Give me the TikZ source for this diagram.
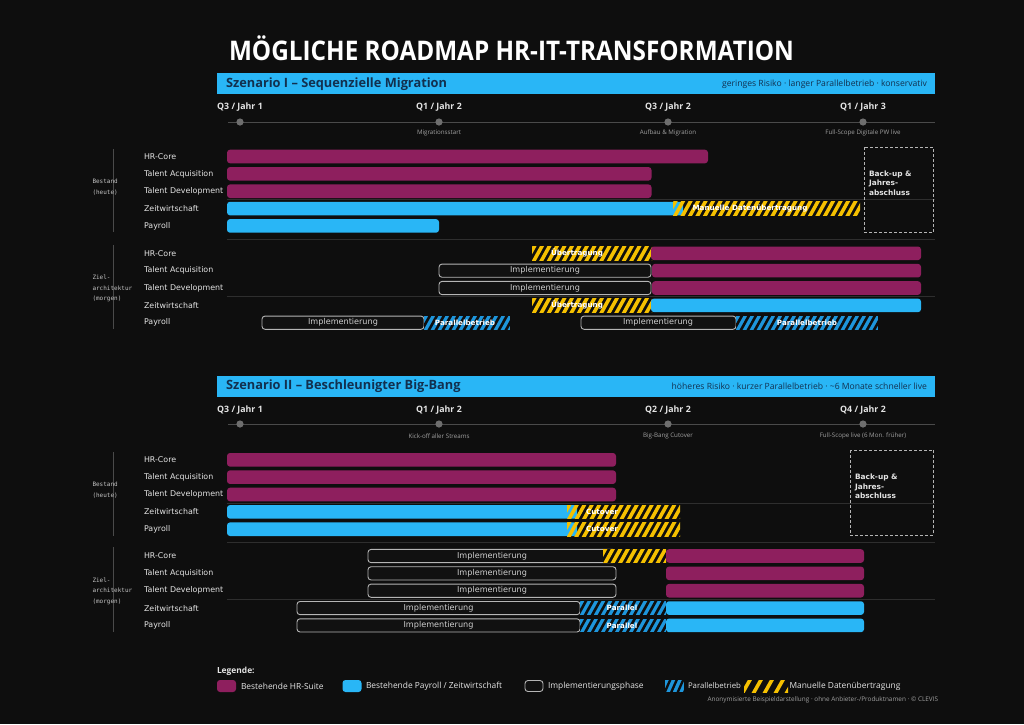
\documentclass[tikz,border=0pt]{standalone}
\usepackage{fontspec}
\setmainfont{Open Sans}
\newfontfamily\dvs{DejaVu Sans}
\newfontfamily\dvm{DejaVu Sans Mono}
\definecolor{bgc}{HTML}{0E0E0E}
\definecolor{magc}{HTML}{8E1F5E}
\definecolor{bluec}{HTML}{29B6F6}
\definecolor{hblue}{HTML}{1E96DC}
\definecolor{yelc}{HTML}{F5C000}
\definecolor{hdrc}{HTML}{12304F}
\definecolor{lblc}{HTML}{E4E4E4}
\definecolor{subc}{HTML}{A0A0A0}
\definecolor{grpc}{HTML}{C4C4C4}
\definecolor{outc}{HTML}{B5B5B5}
\definecolor{implc}{HTML}{D0D0D0}
\definecolor{sepc}{HTML}{2E2E2E}
\definecolor{tlc}{HTML}{4A4A4A}
\definecolor{dotc}{HTML}{6E6E6E}
\definecolor{boxc}{HTML}{111111}

\newcommand\mbar[3]{\fill[magc, rounded corners=3pt] (#1,#3-6.8) rectangle (#2,#3+6.8);}
\newcommand\bbar[3]{\fill[bluec, rounded corners=3pt] (#1,#3-6.8) rectangle (#2,#3+6.8);}
\newcommand\obar[5]{\draw[outc, line width=0.9pt, fill=boxc, rounded corners=3pt] (#1,#3-6.6) rectangle (#2,#3+6.6);
  \node[impltext] (#4) at (#5,#3) {Implementierung};}
\newcommand\yhatch[4]{\begin{scope}
  \clip (#1,#3-6.8) rectangle (#2,#3+6.8);
  \ifx#4d\fill[bgc] (#1,#3-6.8) rectangle (#2,#3+6.8);\fi
  \foreach \i in {0,...,30} \draw[yelc, line width=3.6pt] ({#1-14+\i*7.5},#3+9) -- ++(10,-18);
  \end{scope}}
\newcommand\bhatch[3]{\begin{scope}
  \clip (#1,#3-6.8) rectangle (#2,#3+6.8);
  \fill[hblue] (#1,#3-6.8) rectangle (#2,#3+6.8);
  \foreach \i in {0,...,30} \draw[bgc, line width=2.6pt] ({#1-10+\i*7},#3+9) -- ++(10,-18);
  \end{scope}}

\begin{document}
\begin{tikzpicture}[x=1pt,y=-1pt,
  every node/.style={inner sep=0pt, outer sep=0pt},
  titlestyle/.style={text=white, font=\bfseries\fontsize{27}{30}\selectfont},
  rowlabel/.style={anchor=west, text=lblc, font=\dvs\fontsize{7.9}{9}\selectfont},
  grouplabel/.style={anchor=west, align=left, text=grpc, font=\dvm\fontsize{6}{10.5}\selectfont},
  qlabel/.style={text=lblc, font=\bfseries\fontsize{8.8}{10}\selectfont},
  sublabel/.style={text=subc, font=\fontsize{6.2}{7}\selectfont},
  hdrtitle/.style={anchor=west, text=hdrc, font=\bfseries\fontsize{12.8}{14}\selectfont},
  hdrnote/.style={anchor=east, text=hdrc, font=\fontsize{8.6}{9}\selectfont},
  impltext/.style={text=implc, font=\dvs\fontsize{8.1}{9}\selectfont},
  hatchtext/.style={text=white, font=\dvs\bfseries\fontsize{7.2}{8}\selectfont},
  backup/.style={anchor=west, align=left, text=lblc, font=\dvs\bfseries\fontsize{7.4}{9.5}\selectfont},
  backbox/.style={draw=outc, line width=1pt, dash pattern=on 3pt off 2pt},
  sepline/.style={draw=sepc, line width=0.8pt},
  grpline/.style={draw=tlc, line width=1.2pt},
  tline/.style={draw=tlc, line width=1pt},
  tdot/.style={fill=dotc},
  legtext/.style={anchor=west, text=lblc, font=\fontsize{8.4}{9}\selectfont},
  foottext/.style={anchor=east, text=subc, font=\fontsize{6.4}{7}\selectfont}
]
\useasboundingbox (0,0) rectangle (1024,724);
\fill[bgc] (0,0) rectangle (1024,724);

% Title
\node[titlestyle] (title) at (511.5,48) {\scalebox{0.9}[1]{MÖGLICHE ROADMAP HR-IT-TRANSFORMATION}};

% ================= Scenario I =================
\fill[bluec] (217,73) rectangle (935,94);
\node[hdrtitle] (h1) at (226,84) {Szenario I – Sequenzielle Migration};
\node[hdrnote] (n1) at (927,84) {geringes Risiko · langer Parallelbetrieb · konservativ};

\draw[tline] (228,122) -- (935,122);
\foreach \xx/\q/\s/\nm in {240/{Q3 / Jahr 1}/{}/a, 439/{Q1 / Jahr 2}/{Migrationsstart}/b, 668/{Q3 / Jahr 2}/{Aufbau \& Migration}/c, 863/{Q1 / Jahr 3}/{Full-Scope Digitale PW live}/d}{
  \fill[tdot] (\xx,122) circle (3.6pt);
  \node[qlabel] (q1\nm) at (\xx,107) {\q};
  \node[sublabel] (s1\nm) at (\xx,133) {\s};
}

% separators
\draw[sepline] (227,199.8) -- (935,199.8);
\draw[sepline] (227,239.5) -- (935,239.5);
\draw[sepline] (227,296.8) -- (935,296.8);

% group labels
\draw[grpline] (113.5,149) -- (113.5,232.3);
\draw[grpline] (113.5,245) -- (113.5,329.3);
\node[grouplabel] (g1a) at (92.5,187) {Bestand\\(heute)};
\node[grouplabel] (g1b) at (92.5,288.5) {Ziel-\\architektur\\(morgen)};

% row labels
\node[rowlabel] (r1a) at (144,156.5) {HR-Core};
\node[rowlabel] (r1b) at (144,173.85) {Talent Acquisition};
\node[rowlabel] (r1c) at (144,191.2) {Talent Development};
\node[rowlabel] (r1d) at (144,208.55) {Zeitwirtschaft};
\node[rowlabel] (r1e) at (144,225.9) {Payroll};
\node[rowlabel] (r1f) at (144,253.3) {HR-Core};
\node[rowlabel] (r1g) at (144,270.65) {Talent Acquisition};
\node[rowlabel] (r1h) at (144,288) {Talent Development};
\node[rowlabel] (r1i) at (144,305.35) {Zeitwirtschaft};
\node[rowlabel] (r1j) at (144,322.7) {Payroll};

% Bestand bars
\mbar{227}{708}{156.5}
\mbar{227}{651.5}{173.85}
\mbar{227}{651.5}{191.2}
\bbar{227}{683}{208.55}
\yhatch{673}{860}{208.55}{n}
\node[hatchtext] (t1a) at (750,208.55) {Manuelle Datenübertragung};
\bbar{227}{439}{225.9}

% Back-up box
\draw[backbox] (864,147.3) rectangle (933.3,232.3);
\node[backup] (b1) at (869,183) {Back-up \&\\Jahres-\\abschluss};

% Ziel bars
\yhatch{532}{652}{253.3}{n}
\node[hatchtext] (t1b) at (577,253.3) {Übertragung};
\mbar{651}{921}{253.3}
\obar{439}{651}{270.65}{i1a}{545}
\mbar{652}{921}{270.65}
\obar{439}{651}{288}{i1b}{545}
\mbar{652}{921}{288}
\yhatch{532}{652}{305.35}{n}
\node[hatchtext] (t1c) at (577,305.35) {Übertragung};
\bbar{651}{921}{305.35}
\obar{262}{424}{322.7}{i1c}{343}
\bhatch{424}{510}{322.7}
\node[hatchtext] (t1d) at (465,322.7) {Parallelbetrieb};
\obar{581}{736}{322.7}{i1d}{658}
\bhatch{736}{878}{322.7}
\node[hatchtext] (t1e) at (807,322.7) {Parallelbetrieb};

% ================= Scenario II =================
\fill[bluec] (217,375.5) rectangle (935,397);
\node[hdrtitle] (h2) at (226,386.5) {Szenario II – Beschleunigter Big-Bang};
\node[hdrnote] (n2) at (927,386.5) {höheres Risiko · kurzer Parallelbetrieb · \textasciitilde 6 Monate schneller live};

\draw[tline] (228,424) -- (935,424);
\foreach \xx/\q/\s/\nm in {240/{Q3 / Jahr 1}/{}/a, 439/{Q1 / Jahr 2}/{Kick-off aller Streams}/b, 668/{Q2 / Jahr 2}/{Big-Bang Cutover}/c, 863/{Q4 / Jahr 2}/{Full-Scope live (6 Mon. früher)}/d}{
  \fill[tdot] (\xx,424) circle (3.6pt);
  \node[qlabel] (q2\nm) at (\xx,410) {\q};
  \node[sublabel] (s2\nm) at (\xx,436) {\s};
}

\draw[sepline] (227,503) -- (935,503);
\draw[sepline] (227,542) -- (935,542);
\draw[sepline] (227,599.5) -- (935,599.5);

\draw[grpline] (113.5,452.3) -- (113.5,535.7);
\draw[grpline] (113.5,547.3) -- (113.5,632.3);
\node[grouplabel] (g2a) at (92.5,490) {Bestand\\(heute)};
\node[grouplabel] (g2b) at (92.5,591.2) {Ziel-\\architektur\\(morgen)};

\node[rowlabel] (r2a) at (144,459.8) {HR-Core};
\node[rowlabel] (r2b) at (144,477.15) {Talent Acquisition};
\node[rowlabel] (r2c) at (144,494.5) {Talent Development};
\node[rowlabel] (r2d) at (144,511.85) {Zeitwirtschaft};
\node[rowlabel] (r2e) at (144,529.2) {Payroll};
\node[rowlabel] (r2f) at (144,556) {HR-Core};
\node[rowlabel] (r2g) at (144,573.35) {Talent Acquisition};
\node[rowlabel] (r2h) at (144,590.7) {Talent Development};
\node[rowlabel] (r2i) at (144,608.05) {Zeitwirtschaft};
\node[rowlabel] (r2j) at (144,625.4) {Payroll};

\mbar{227}{616}{459.8}
\mbar{227}{616}{477.15}
\mbar{227}{616}{494.5}
\bbar{227}{577}{511.85}
\yhatch{567}{680}{511.85}{n}
\node[hatchtext] (t2a) at (602,511.85) {Cutover};
\bbar{227}{577}{529.2}
\yhatch{567}{680}{529.2}{n}
\node[hatchtext] (t2b) at (602,529.2) {Cutover};

\draw[backbox] (850,450) rectangle (933.3,535);
\node[backup] (b2) at (855,486.5) {Back-up \&\\Jahres-\\abschluss};

\obar{368}{616}{556}{i2a}{492}
\yhatch{603}{666}{556}{d}
\mbar{666}{864}{556}
\obar{368}{616}{573.35}{i2b}{492}
\mbar{666}{864}{573.35}
\obar{368}{616}{590.7}{i2c}{492}
\mbar{666}{864}{590.7}
\obar{297}{580}{608.05}{i2d}{438.5}
\bhatch{580}{666}{608.05}
\node[hatchtext] (t2c) at (622,608.05) {Parallel};
\bbar{666}{864}{608.05}
\obar{297}{580}{625.4}{i2e}{438.5}
\bhatch{580}{666}{625.4}
\node[hatchtext] (t2d) at (622,625.4) {Parallel};
\bbar{666}{864}{625.4}

% ================= Legend =================
\node[anchor=west, text=lblc, font=\bfseries\fontsize{8.4}{9}\selectfont] (leg) at (217,671) {Legende:};
\fill[magc, rounded corners=3pt] (217,680) rectangle (236,692);
\node[legtext] (l1) at (241,686) {Bestehende HR-Suite};
\fill[bluec, rounded corners=3pt] (342.5,680) rectangle (361.5,692);
\node[legtext] (l2) at (366,686) {Bestehende Payroll / Zeitwirtschaft};
\draw[outc, line width=0.9pt, fill=boxc, rounded corners=3pt] (525,680.5) rectangle (543,691.5);
\node[legtext] (l3) at (548,686) {Implementierungsphase};
\begin{scope}
  \clip (665,680) rectangle (684,692);
  \fill[hblue] (665,680) rectangle (684,692);
  \foreach \i in {0,...,5} \draw[bgc, line width=2.4pt] ({657+\i*6.5},695) -- ++(8,-18);
\end{scope}
\node[legtext, font=\fontsize{7.8}{9}\selectfont] (l4) at (688,686) {Parallelbetrieb};
\begin{scope}
  \clip (744,680) rectangle (788,692);
  \foreach \i in {0,...,4} \draw[yelc, line width=3.6pt] ({742+\i*11},694) -- ++(9,-16);
\end{scope}
\node[legtext] (l5) at (789.5,686) {Manuelle Datenübertragung};
\node[foottext] (foot) at (938,700) {Anonymisierte Beispieldarstellung · ohne Anbieter-/Produktnamen · © CLEVIS};
\end{tikzpicture}
\end{document}
